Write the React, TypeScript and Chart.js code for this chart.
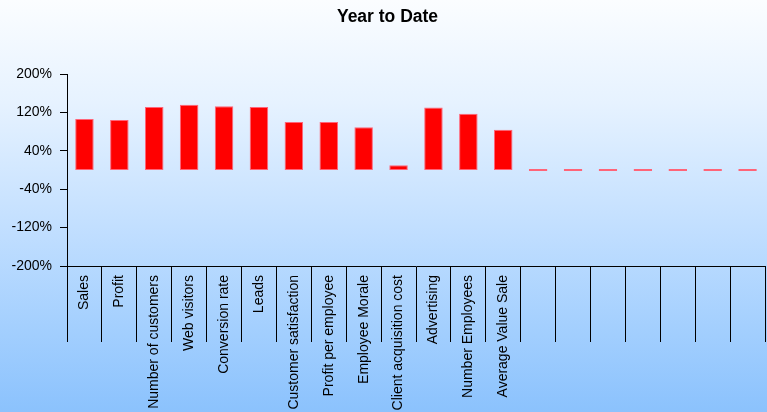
import React, { useEffect, useRef } from "react";
import { Chart, registerables } from "chart.js";

Chart.register(...registerables);

const categories: string[] = [
  "Sales",
  "Profit",
  "Number of customers",
  "Web visitors",
  "Conversion rate",
  "Leads",
  "Customer satisfaction",
  "Profit per employee",
  "Employee Morale",
  "Client acquisition cost",
  "Advertising",
  "Number Employees",
  "Average Value Sale",
  "",
  "",
  "",
  "",
  "",
  "",
  "",
];

const ytdValues: number[] = [106, 104, 131, 136, 133, 131, 100, 100, 89, 10, 130, 117, 84, 0, 0, 0, 0, 0, 0, 0];

const yMin = -200;
const yMax = 200;
const yStep = 80;

const FONT = "'Liberation Sans', Arial, Helvetica, sans-serif";

export default function App() {
  const ref = useRef<HTMLCanvasElement | null>(null);

  useEffect(() => {
    if (!ref.current) return;
    const chart = new Chart(ref.current, {
      type: "bar",
      data: {
        labels: categories,
        datasets: [
          {
            label: "Year to Date",
            data: ytdValues,
            backgroundColor: "#ff0000",
            borderColor: "#ff6478",
            borderWidth: 1,
            borderSkipped: false,
            minBarLength: 2,
            barPercentage: 0.53,
            categoryPercentage: 1,
          },
        ],
      },
      options: {
        responsive: false,
        animation: false,
        layout: { padding: { left: 10, right: 2, top: 0, bottom: 0 } },
        plugins: {
          legend: { display: false },
          tooltip: { enabled: false },
          title: {
            display: true,
            text: "Year to Date",
            color: "#000",
            font: { family: FONT, size: 17.5, weight: "bold" },
            padding: { top: 7, bottom: 46 },
          },
        },
        scales: {
          x: {
            type: "category",
            offset: true,
            border: { display: true, color: "#000", width: 1 },
            grid: {
              display: true,
              drawOnChartArea: false,
              drawTicks: true,
              tickLength: 76,
              offset: true,
              color: "#000",
              lineWidth: 1,
            },
            ticks: {
              autoSkip: false,
              maxRotation: 90,
              minRotation: 90,
              padding: -67,
              color: "#000",
              font: { family: FONT, size: 14 },
            },
            afterFit: (scale: any) => {
              scale.height = 146;
            },
          },
          y: {
            min: yMin,
            max: yMax,
            border: { display: true, color: "#000", width: 1 },
            grid: {
              display: true,
              drawOnChartArea: false,
              drawTicks: true,
              tickLength: 7,
              color: "#000",
            },
            ticks: {
              stepSize: yStep,
              padding: 8,
              color: "#000",
              font: { family: FONT, size: 14 },
              callback: (v: any) => `${v}%`,
            },
            afterFit: (scale: any) => {
              scale.width = 57;
            },
          },
        },
      },
    });
    return () => chart.destroy();
  }, []);

  return (
    <div
      style={{
        position: "absolute",
        left: 0,
        top: 0,
        width: 767,
        height: 412,
        background: "linear-gradient(to bottom, #fbfdff 0%, #e6f2ff 25%, #c2dfff 55%, #a3cffe 80%, #8bc2fd 100%)",
      }}
    >
      <canvas ref={ref} width={767} height={412} style={{ display: "block", width: 767, height: 412 }} />
    </div>
  );
}
